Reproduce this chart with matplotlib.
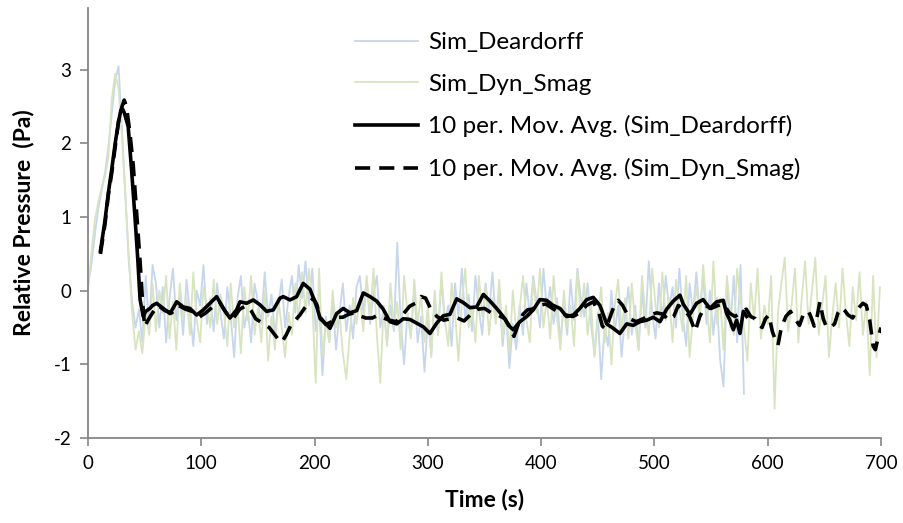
import numpy as np
import matplotlib.pyplot as plt

plt.rcParams['font.family'] = ['Lato', 'DejaVu Sans']
plt.rcParams['axes.unicode_minus'] = False

# raw signals, sampled every 3 s
dear_t = np.arange(0, 580, 3)
dear_p = [
    0.05, 0.35, 0.75, 1.1, 1.35, 1.6, 1.95, 2.4, 2.85, 3.05, 2.2, 1.3, 0.4, -0.15, -0.5, -0.25, -0.7, 0.2, -0.5, 0.35,
    0.1, -0.5, 0.05, -0.7, -0.1, 0.3, -0.4, -0.05, -0.6, 0.15, -0.3, -0.75, 0.0, -0.2, 0.35, -0.45, -0.1, -0.55, 0.1, -0.3,
    -0.65, 0.05, -0.35, -0.9, -0.1, 0.2, -0.5, -0.25, -0.7, 0.1, -0.15, -0.45, 0.25, -0.35, -0.05, -0.6, -0.2, 0.15, -0.5, -0.1,
    0.2, -0.3, 0.35, -0.1, 0.4, -0.2, 0.3, -0.55, -0.2, -1.15, -0.35, -0.7, -0.15, -0.8, -0.3, 0.1, -0.55, -0.2, -0.65, 0.05,
    0.2, -0.3, 0.15, -0.45, -0.05, 0.2, -0.5, -0.25, -0.7, -0.2, -0.55, 0.65, -0.4, -1.0, -0.3, -0.6, 0.0, -0.7, -0.35, -1.1,
    -0.4, -0.85, -0.1, -0.6, 0.15, -0.45, -0.2, -0.75, 0.1, -0.35, 0.3, -0.4, -0.05, -0.55, 0.2, -0.25, -0.6, 0.1, -0.3, 0.25,
    -0.4, 0.0, -0.75, -0.3, -1.05, -0.45, -0.8, -0.2, -0.6, 0.1, -0.35, 0.2, -0.15, -0.5, 0.3, -0.25, 0.05, -0.45, -0.1, -0.7,
    -0.2, -0.6, 0.15, -0.4, 0.3, -0.1, -0.35, 0.1, -0.45, -0.85, -0.3, -1.2, -0.5, -0.75, 0.0, -0.55, -0.2, -0.9, -0.35, 0.05,
    -0.6, -0.2, -0.8, 0.0, -0.5, 0.4, -0.3, -0.65, 0.1, -0.4, 0.2, -0.25, 0.05, -0.5, 0.3, -0.35, -0.75, 0.1, -0.3, 0.25,
    -0.3, 0.2, -0.45, 0.0, -0.6, -0.1, -0.95, -1.3, 0.1, -0.5, 0.2, -0.7, 0.35, -1.4,
]

smag_t = np.arange(0, 700, 3)
smag_p = [
    0.0, 0.5, 0.95, 1.2, 1.4, 1.55, 1.8, 2.6, 2.95, 2.75, 2.1, 1.3, 0.5, -0.3, -0.8, -0.55, -0.85, -0.3, -0.6, 0.1,
    -0.55, 0.0, -0.3, 0.2, -0.65, -0.15, -0.8, 0.1, -0.35, -0.1, -0.6, 0.25, -0.4, -0.7, 0.05, -0.2, -0.5, 0.15, -0.45, -0.05,
    -0.3, -0.75, 0.1, -0.5, -0.2, -0.85, 0.05, -0.4, 0.2, -0.6, -0.25, -0.7, 0.0, -0.95, -0.35, -0.8, -0.1, -0.5, -0.9, -0.3,
    -0.6, 0.1, -0.4, 0.25, -0.3, 0.3, -0.15, -1.25, 0.3, -0.9, -0.4, -0.7, 0.0, -0.5, -0.3, -0.85, -1.2, -0.6, -0.1, -0.45,
    -0.1, -0.55, 0.2, -0.35, 0.3, -0.6, -1.25, -0.2, -0.75, 0.1, -0.5, -0.15, -0.8, 0.2, -0.3, -0.65, 0.15, -0.45, -0.05, -0.7,
    -0.2, -0.9, 0.0, -0.6, 0.25, -0.4, -0.75, 0.1, -0.3, -0.95, -0.15, 0.3, -0.5, -0.2, -0.7, 0.2, -0.35, 0.05, -0.6, -0.1,
    -0.45, 0.15, -0.65, -0.2, -0.85, 0.0, -0.55, -0.25, 0.2, -0.4, -0.7, 0.15, -0.3, 0.3, -0.5, -0.1, -0.65, 0.2, -0.35, -0.8,
    0.0, -0.5, -0.2, -0.75, 0.25, -0.35, 0.1, -0.6, -0.15, -0.9, -0.4, 0.05, -0.7, -0.3, -1.0, -0.2, 0.15, -0.55, -0.1, -0.65,
    0.1, -0.45, -0.8, 0.2, -0.3, -0.6, 0.3, -0.2, -0.5, 0.25, -0.4, -0.1, -0.7, 0.15, -0.25, -0.55, 0.2, -0.9, -0.35, 0.05,
    -0.4, 0.35, -0.2, -0.7, 0.4, -0.45, -0.1, -0.8, 0.2, -0.3, -0.6, 0.3, -0.15, -0.5, -0.95, 0.1, -0.4, 0.3, -0.65, -0.2,
    -0.45, 0.2, -1.6, -0.3, 0.1, 0.45, -0.55, -0.2, 0.3, -0.7, -0.1, 0.4, -0.45, 0.0, 0.45, -0.6, -0.2, 0.2, -0.9, -0.35,
    0.1, -0.5, 0.3, -0.3, -0.75, 0.05, -0.4, 0.25, -0.6, -0.15, -1.15, 0.2, -0.9, 0.05,
]

# 10 period moving averages
dear_avg_t = [11, 15, 18, 21, 24, 27, 29, 30.5, 32, 35.5, 38.5, 41.5, 44, 46, 48.8, 51, 54.7, 57, 60.6, 66.5,
              72.4, 78.3, 84.1, 90, 95.9, 101.8, 107.7, 113.6, 119.4, 125.3, 131.2, 134.2, 140, 145.9, 151.8, 157.7,
              163.6, 169.5, 172.4, 178.3, 184.2, 187, 190, 196, 199, 202, 205, 210.7, 213.6, 219.5, 225.3, 231.2,
              237.2, 243, 249, 254.8, 260.6, 266.5, 272.5, 278.3, 284.2, 290.1, 296, 301.9, 307.8, 313.6, 319.5,
              325.4, 331.2, 337.2, 343, 349, 354.8, 360.7, 366.5, 372.5, 375.4, 381.3, 387.2, 393, 398.9, 404.8,
              410.7, 416.6, 422.5, 428.3, 434.2, 440.2, 446, 451.9, 457.8, 463.6, 469.5, 475.5, 481.3, 487.2, 493.1,
              499, 504.9, 510.8, 516.6, 522.5, 525.4, 531.3, 537.2, 543, 549, 554.9, 560.7, 563.7, 566.6, 569.6,
              572.5, 575.5, 578.4, 581.4]
dear_avg = [0.54, 0.95, 1.33, 1.65, 2.0, 2.3, 2.45, 2.47, 2.42, 2.23, 1.64, 1.0, 0.42, -0.12, -0.35, -0.28, -0.24, -0.2, -0.17, -0.24,
            -0.31, -0.15, -0.22, -0.24, -0.33, -0.26, -0.17, -0.08, -0.24, -0.37, -0.26, -0.15, -0.17, -0.125, -0.19, -0.28,
            -0.26, -0.10, -0.08, -0.125, -0.08, 0.01, 0.10, 0.02, -0.1, -0.22, -0.38, -0.46, -0.51, -0.31, -0.24, -0.3,
            -0.27, -0.03, -0.08, -0.14, -0.25, -0.42, -0.45, -0.38, -0.39, -0.44, -0.49, -0.58, -0.44, -0.34, -0.32,
            -0.11, -0.16, -0.23, -0.22, -0.05, -0.14, -0.24, -0.35, -0.49, -0.53, -0.42, -0.35, -0.26, -0.12, -0.13,
            -0.2, -0.24, -0.35, -0.33, -0.24, -0.12, -0.09, -0.2, -0.45, -0.51, -0.58, -0.45, -0.47, -0.42, -0.40,
            -0.36, -0.42, -0.25, -0.14, -0.06, -0.18, -0.32, -0.17, -0.12, -0.24, -0.15, -0.13, -0.31, -0.40, -0.53,
            -0.40, -0.58, -0.28, -0.35]

smag_avg_t = [11, 15, 18, 21, 24, 27, 30, 32, 34, 37, 40, 43, 46, 48, 50, 53, 57, 62, 68, 74, 80, 86, 92, 98, 104,
              110, 116, 122, 128, 134, 140, 144, 148, 152, 156, 160, 164, 168, 171, 175, 179, 183, 187, 191, 196,
              199, 202, 205, 210, 215, 220, 225, 230, 235, 240, 245, 251, 256, 261, 266, 272, 278, 284, 289, 294,
              298, 302, 308, 314, 320, 326, 332, 338, 344, 350, 356, 362, 368, 373, 376, 380, 384, 388, 392, 398,
              404, 410, 416, 422, 428, 434, 440, 446, 451, 454, 457, 461, 465, 468, 472, 478, 484, 490, 496, 502,
              508, 512, 517, 521, 526, 531, 536, 540, 545, 550, 556, 561, 566, 571, 576, 581, 585, 589, 592, 595,
              598, 601, 604, 607, 609, 612, 616, 620, 624, 628, 632, 636, 638, 641, 643, 646, 649, 652, 656, 659,
              662, 665, 668, 671, 675, 678, 681, 684, 687, 690, 693, 695, 698, 700]
smag_avg = [0.5, 0.9, 1.3, 1.6, 1.95, 2.3, 2.5, 2.59, 2.5, 2.15, 1.7, 1.05, 0.4, -0.1, -0.49, -0.4, -0.3, -0.2, -0.27, -0.3,
            -0.2, -0.25, -0.28, -0.36, -0.3, -0.22, -0.15, -0.3, -0.38, -0.25, -0.2, -0.27, -0.38, -0.42, -0.46, -0.5,
            -0.58, -0.66, -0.7, -0.6, -0.47, -0.4, -0.33, -0.24, -0.15, -0.1, -0.19, -0.36, -0.46, -0.42, -0.36, -0.36,
            -0.32, -0.3, -0.34, -0.37, -0.37, -0.33, -0.37, -0.4, -0.42, -0.32, -0.21, -0.17, -0.08, -0.1, -0.23,
            -0.35, -0.4, -0.38, -0.37, -0.41, -0.32, -0.25, -0.24, -0.3, -0.33, -0.38, -0.52, -0.62, -0.45, -0.32,
            -0.26, -0.25, -0.2, -0.18, -0.24, -0.3, -0.33, -0.35, -0.3, -0.2, -0.15, -0.3, -0.48, -0.52, -0.35,
            -0.18, -0.13, -0.2, -0.38, -0.42, -0.38, -0.33, -0.3, -0.32, -0.4, -0.35, -0.2, -0.25, -0.35, -0.55,
            -0.35, -0.2, -0.24, -0.2, -0.18, -0.3, -0.35, -0.3, -0.25, -0.35, -0.38, -0.45, -0.5, -0.38, -0.33,
            -0.55, -0.68, -0.74, -0.5, -0.35, -0.28, -0.38, -0.47, -0.3, -0.28, -0.35, -0.48, -0.4, -0.15, -0.38,
            -0.5, -0.49, -0.45, -0.3, -0.23, -0.27, -0.33, -0.37, -0.28, -0.22, -0.17, -0.2, -0.4, -0.75, -0.8,
            -0.6, -0.5]

fig = plt.figure(figsize=(9.04, 5.23), dpi=100)
ax = fig.add_axes([0.0973, 0.1625, 0.8773, 0.8222])

ax.plot(dear_t, dear_p, color='#c6d6ec', lw=1.3, label='Sim_Deardorff')
ax.plot(smag_t, smag_p, color='#d8e4c0', lw=1.3, label='Sim_Dyn_Smag')
ax.plot(dear_avg_t, dear_avg, color='black', lw=2.6, label='10 per. Mov. Avg. (Sim_Deardorff)')
ax.plot(smag_avg_t, smag_avg, color='black', lw=2.6, dashes=(4.2, 2.5),
        label='10 per. Mov. Avg. (Sim_Dyn_Smag)')

ax.set_xlim(0, 700)
ax.set_ylim(-2, 3.84)
ax.set_xticks(range(0, 701, 100))
ax.set_yticks(range(-2, 4))
for s in ['top', 'right']:
    ax.spines[s].set_visible(False)
for s in ['left', 'bottom']:
    ax.spines[s].set_color('#868686')
    ax.spines[s].set_linewidth(1.3)
ax.tick_params(direction='out', length=6, width=1.2, color='#868686', labelsize=13.5, pad=6)

ax.set_xlabel('Time (s)', fontsize=16.5, fontweight='bold', labelpad=12)
ax.set_ylabel('Relative Pressure  (Pa)', fontsize=16.5, fontweight='bold', labelpad=14)

ax.legend(loc='upper left', bbox_to_anchor=(355 / 904, 1 - 32 / 523), bbox_transform=fig.transFigure,
          frameon=False, fontsize=17.5, handlelength=2.6, handletextpad=0.4, labelspacing=0.85,
          borderpad=0, borderaxespad=0)

fig.savefig('out.png', dpi=100)
